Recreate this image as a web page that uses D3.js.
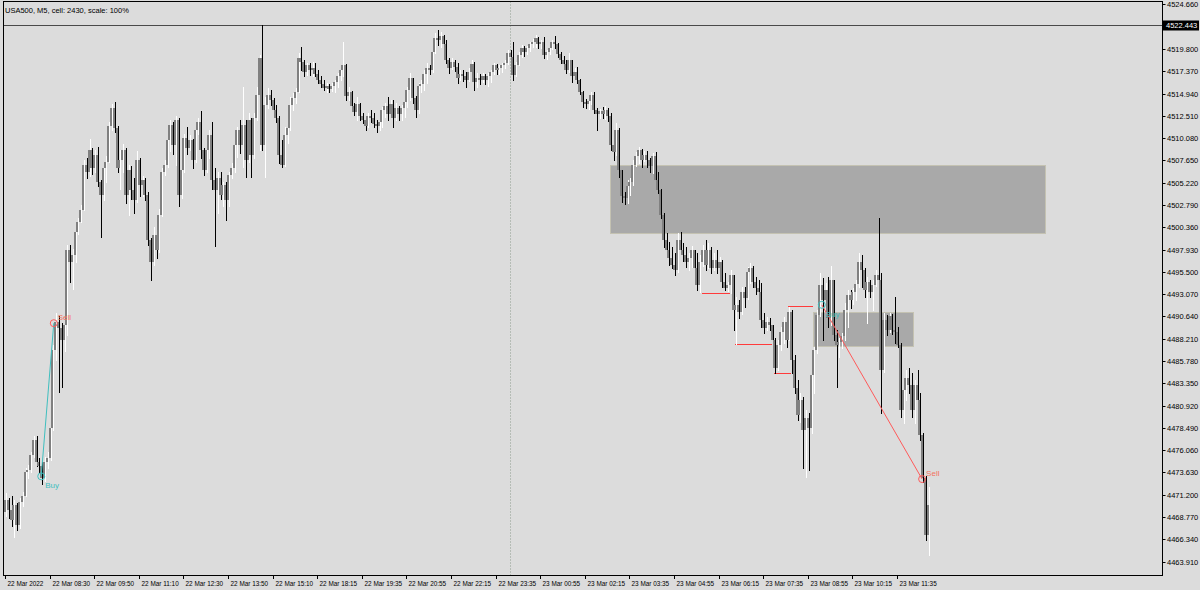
<!DOCTYPE html>
<html><head><meta charset="utf-8">
<script src="https://cdn.jsdelivr.net/npm/d3@7"></script>
<style>html,body{margin:0;padding:0;background:#dcdcdc;}svg{display:block;font-family:"Liberation Sans",Arial,sans-serif;}</style>
</head><body>
<svg id="chart" width="1200" height="590"></svg>
<script>
const chartTitle = "USA500, M5, cell: 2430, scale: 100%";

const opens = [
4469.3,4470.6,4469.5,4468.4,4470.1,4467.9,4470.4,4471.1,4473.7,4473.9,4475.5,4477.2,4474.8,4474.3,4473.0,4474.8,
4475.2,4478.5,4487.0,4490.0,4489.4,4488.1,4489.7,4497.9,4496.6,4497.3,4499.8,4500.9,4502.2,4507.1,4506.4,4508.8,
4506.8,4508.2,4505.3,4503.9,4506.8,4507.5,4511.4,4513.4,4511.2,4506.8,4507.7,4508.8,4503.9,4506.6,4504.4,4503.3,
4507.7,4505.0,4505.5,4503.9,4499.0,4496.6,4499.5,4497.9,4501.7,4506.4,4507.1,4509.9,4511.5,4509.3,4512.0,4503.9,
4506.6,4510.1,4509.0,4509.9,4507.7,4511.0,4511.8,4508.8,4506.6,4508.8,4510.4,4505.5,4504.4,4505.7,4503.9,4505.0,
4503.3,4506.1,4506.8,4509.3,4511.0,4509.3,4511.5,4507.7,4512.0,4508.2,4512.3,4514.8,4518.8,4509.3,4513.7,4514.8,
4514.2,4513.1,4512.3,4508.2,4507.1,4510.4,4511.2,4513.7,4514.5,4515.1,4518.8,4518.4,4517.3,4518.0,4517.5,4517.7,
4517.1,4516.4,4516.0,4515.5,4515.8,4515.4,4515.8,4516.2,4516.9,4517.5,4518.0,4514.7,4515.1,4513.6,4512.9,4513.8,
4512.5,4512.0,4511.4,4512.5,4512.3,4511.6,4511.4,4511.8,4513.1,4513.6,4512.7,4513.8,4512.3,4513.4,4512.7,4513.4,
4514.0,4515.3,4516.6,4514.5,4513.1,4515.8,4516.0,4517.1,4517.7,4517.5,4519.5,4521.0,4520.8,4521.2,4520.3,4518.6,
4517.7,4518.4,4517.8,4516.6,4517.1,4516.9,4516.4,4517.3,4518.2,4516.2,4516.6,4516.4,4516.9,4516.4,4516.9,4517.3,
4518.0,4517.5,4517.7,4518.1,4518.3,4519.4,4518.9,4517.0,4518.1,4519.1,4519.9,4519.5,4519.9,4520.3,4520.6,4521.0,
4520.3,4520.6,4519.1,4519.5,4519.9,4520.6,4520.3,4519.3,4518.6,4518.2,4517.5,4518.6,4516.9,4517.3,4516.4,4515.1,
4514.0,4513.8,4514.1,4514.8,4513.1,4512.7,4513.0,4512.7,4513.1,4512.5,4509.3,4508.6,4511.0,4506.6,4503.8,4503.5,
4504.9,4505.3,4507.1,4508.1,4508.8,4507.7,4508.2,4507.7,4507.0,4508.1,4505.5,4504.4,4501.7,4499.0,4497.9,4497.0,
4496.2,4495.7,4499.0,4497.9,4497.3,4496.6,4497.0,4497.9,4495.9,4494.1,4496.6,4497.9,4496.2,4497.9,4495.9,4496.8,
4495.9,4496.6,4494.4,4493.7,4494.1,4495.2,4491.3,4491.9,4491.1,4493.3,4492.6,4495.5,4495.9,4494.4,4493.7,4493.3,
4490.2,4489.4,4490.0,4489.7,4488.1,4485.0,4487.5,4488.9,4490.0,4488.1,4491.1,4485.9,4482.8,4479.9,4481.5,4478.3,
4479.6,4478.5,4484.2,4487.0,4490.8,4494.1,4492.4,4493.5,4490.5,4494.6,4488.6,4487.5,4487.8,4488.5,4491.3,4493.0,
4492.4,4493.3,4494.2,4496.6,4495.7,4493.5,4494.4,4493.3,4494.1,4495.2,4494.6,4484.8,4490.2,4489.2,4490.7,4489.2,
4488.9,4487.5,4480.4,4482.6,4483.9,4483.2,4480.4,4483.2,4481.5,4477.7,4473.0,4466.8
];
const highs = [
4471.4,4470.8,4471.0,4470.6,4470.3,4470.8,4471.5,4474.1,4474.4,4475.9,4477.6,4477.6,4475.2,4474.8,4475.3,4475.9,
4478.9,4487.5,4491.0,4490.7,4489.9,4490.5,4498.4,4498.4,4498.0,4500.3,4501.4,4502.8,4507.7,4507.9,4510.0,4509.0,
4508.8,4509.1,4505.5,4507.4,4508.1,4511.8,4513.8,4514.0,4511.4,4508.8,4509.4,4509.0,4507.1,4507.0,4505.7,4508.7,
4507.9,4506.0,4505.7,4504.2,4499.2,4500.4,4501.2,4502.4,4506.8,4507.7,4510.2,4512.0,4511.8,4512.5,4512.3,4507.1,
4510.5,4511.3,4510.4,4510.0,4511.3,4512.3,4513.0,4509.0,4509.4,4511.0,4511.8,4506.8,4506.4,4506.4,4505.3,4505.3,
4506.4,4507.4,4509.8,4511.3,4512.0,4515.7,4512.0,4512.8,4512.3,4512.8,4515.7,4519.1,4522.4,4514.6,4515.5,4515.3,
4514.5,4513.7,4512.5,4509.9,4511.3,4511.7,4514.6,4515.0,4515.5,4519.4,4520.0,4518.6,4518.3,4518.3,4518.4,4518.3,
4517.5,4516.8,4516.4,4516.1,4516.0,4516.1,4516.4,4517.2,4517.8,4520.6,4518.2,4515.7,4515.2,4513.9,4514.6,4513.9,
4512.8,4512.4,4512.8,4513.1,4512.8,4512.0,4512.2,4513.5,4513.9,4514.6,4514.2,4514.2,4513.9,4513.6,4513.7,4514.2,
4515.7,4517.2,4516.6,4514.7,4516.1,4516.4,4517.5,4518.3,4518.1,4519.7,4521.5,4521.9,4521.6,4521.3,4520.8,4518.8,
4518.8,4518.6,4518.3,4517.5,4517.5,4517.3,4517.7,4518.6,4518.4,4517.2,4517.1,4517.2,4517.1,4517.2,4517.5,4518.3,
4518.2,4518.0,4518.3,4518.6,4519.7,4519.7,4520.6,4518.4,4519.5,4520.2,4520.1,4520.1,4520.6,4520.9,4521.3,4521.1,
4520.8,4521.1,4519.7,4520.1,4520.8,4521.2,4520.5,4519.5,4519.0,4518.6,4519.4,4518.6,4517.7,4517.8,4516.5,4515.2,
4514.3,4514.3,4515.1,4515.1,4513.4,4513.3,4513.5,4513.6,4513.4,4512.8,4509.9,4511.7,4511.2,4506.6,4504.2,4505.5,
4505.7,4507.7,4508.6,4509.1,4508.9,4508.7,4508.7,4507.9,4508.5,4508.6,4506.4,4504.5,4501.9,4499.7,4498.8,4498.2,
4497.6,4499.7,4499.8,4498.6,4498.2,4497.6,4498.3,4497.9,4497.6,4497.3,4498.4,4499.0,4498.6,4498.2,4497.6,4497.9,
4497.1,4496.8,4495.4,4494.4,4495.7,4495.2,4492.8,4492.4,4493.8,4493.8,4496.0,4496.5,4496.1,4494.9,4494.6,4494.3,
4491.0,4490.6,4490.5,4489.7,4488.3,4488.1,4489.5,4490.6,4490.2,4491.7,4491.3,4486.4,4483.7,4482.3,4481.9,4480.4,
4480.1,4485.1,4487.3,4491.3,4495.4,4494.8,4494.3,4494.9,4496.1,4494.6,4489.2,4488.3,4488.8,4492.1,4493.5,4493.5,
4493.7,4494.6,4497.6,4497.3,4495.9,4494.9,4494.6,4494.6,4495.7,4501.4,4495.4,4491.0,4490.8,4491.0,4490.9,4492.8,
4489.5,4487.7,4483.4,4484.8,4485.0,4484.5,4483.7,4484.8,4482.3,4477.9,4473.2,4472.0
];
const lows = [
4468.9,4468.6,4467.8,4466.6,4467.4,4467.6,4470.0,4471.0,4473.0,4473.7,4475.3,4474.3,4473.7,4472.4,4472.7,4474.1,
4475.0,4478.3,4485.9,4482.4,4482.9,4486.9,4488.6,4494.4,4493.6,4496.6,4499.6,4500.9,4502.2,4505.7,4506.0,4506.2,
4506.4,4504.9,4499.3,4503.3,4505.3,4507.5,4511.0,4510.7,4506.4,4504.5,4506.4,4503.0,4501.7,4503.4,4501.9,4503.1,
4503.8,4503.8,4503.3,4498.4,4494.6,4496.2,4497.0,4497.7,4501.6,4506.1,4506.9,4508.7,4508.3,4507.1,4502.7,4503.5,
4506.4,4508.3,4508.8,4506.8,4507.5,4510.5,4507.9,4506.1,4506.4,4507.9,4504.5,4498.3,4501.9,4503.4,4502.7,4501.2,
4502.7,4505.7,4506.4,4508.0,4508.5,4506.9,4505.8,4507.5,4505.8,4507.9,4512.0,4508.8,4508.8,4505.8,4513.4,4513.7,
4512.6,4511.8,4507.4,4506.9,4507.0,4509.5,4511.0,4513.1,4513.9,4515.1,4517.5,4516.8,4517.0,4517.0,4516.8,4516.8,
4516.1,4515.7,4515.3,4515.1,4515.1,4515.2,4515.1,4515.7,4516.4,4516.8,4514.2,4514.2,4513.1,4512.6,4512.0,4512.0,
4511.7,4511.0,4511.3,4511.8,4511.3,4510.7,4511.0,4511.3,4512.4,4512.0,4512.4,4511.3,4512.0,4512.0,4512.0,4512.4,
4513.5,4514.2,4513.9,4512.4,4512.8,4515.1,4515.3,4516.1,4517.1,4517.3,4519.4,4520.2,4520.0,4519.9,4518.3,4517.2,
4517.6,4517.4,4516.1,4516.4,4516.3,4515.7,4516.3,4516.8,4515.3,4515.7,4516.0,4516.2,4516.0,4515.8,4516.2,4517.1,
4517.1,4517.1,4517.3,4517.7,4518.2,4518.5,4516.4,4516.9,4518.0,4518.9,4519.0,4519.3,4519.6,4520.0,4520.0,4519.9,
4519.9,4518.8,4518.7,4519.3,4519.8,4519.9,4518.9,4518.3,4517.8,4517.2,4517.3,4516.2,4516.6,4516.1,4514.9,4513.5,
4513.4,4513.3,4513.8,4512.8,4511.0,4512.3,4512.3,4512.2,4511.9,4508.8,4507.7,4508.2,4505.8,4503.1,4502.9,4503.0,
4503.9,4505.0,4507.0,4507.4,4506.9,4507.6,4506.9,4506.4,4506.3,4505.2,4504.1,4501.4,4498.2,4497.3,4496.2,4495.9,
4495.1,4495.5,4497.6,4496.7,4496.0,4495.7,4496.0,4495.3,4493.5,4493.3,4496.1,4495.7,4495.9,4495.4,4495.7,4495.4,
4495.6,4493.8,4493.5,4493.4,4493.2,4489.2,4487.6,4490.5,4490.9,4491.7,4492.5,4494.3,4493.8,4493.1,4492.6,4489.5,
4488.8,4489.2,4489.2,4487.5,4484.5,4484.8,4487.0,4487.7,4487.3,4488.1,4484.5,4482.3,4479.3,4479.1,4474.1,4473.1,
4473.9,4477.9,4482.3,4486.6,4490.7,4488.1,4491.7,4489.5,4489.7,4488.1,4482.9,4486.2,4487.2,4488.1,4489.5,4491.6,
4492.0,4492.4,4493.8,4493.8,4492.7,4489.9,4492.7,4491.3,4494.0,4493.8,4480.1,4484.6,4488.6,4488.9,4488.7,4487.7,
4487.3,4479.7,4479.0,4481.5,4482.3,4479.7,4479.0,4480.4,4477.2,4472.6,4466.3,4464.6
];
const closes = [
4470.6,4469.5,4468.4,4470.1,4467.9,4470.4,4471.1,4473.7,4473.9,4475.5,4477.2,4474.8,4474.3,4473.0,4474.8,4475.2,
4478.5,4487.0,4490.0,4489.4,4488.1,4489.7,4497.9,4496.6,4497.3,4499.8,4500.9,4502.2,4507.1,4506.4,4508.8,4506.8,
4508.2,4505.3,4503.9,4506.8,4507.5,4511.4,4513.4,4511.2,4506.8,4507.7,4508.8,4503.9,4506.6,4504.4,4503.3,4507.7,
4505.0,4505.5,4503.9,4499.0,4496.6,4499.5,4497.9,4501.7,4506.4,4507.1,4509.9,4511.5,4509.3,4512.0,4503.9,4506.6,
4510.1,4509.0,4509.9,4507.7,4511.0,4511.8,4508.8,4506.6,4508.8,4510.4,4505.5,4504.4,4505.7,4503.9,4505.0,4503.3,
4506.1,4506.8,4509.3,4511.0,4509.3,4511.5,4507.7,4512.0,4508.2,4512.3,4514.8,4518.8,4509.3,4513.7,4514.8,4514.2,
4513.1,4512.3,4508.2,4507.1,4510.4,4511.2,4513.7,4514.5,4515.1,4518.8,4518.4,4517.3,4518.0,4517.5,4517.7,4517.1,
4516.4,4516.0,4515.5,4515.8,4515.4,4515.8,4516.2,4516.9,4517.5,4518.0,4514.7,4515.1,4513.6,4512.9,4513.8,4512.5,
4512.0,4511.4,4512.5,4512.3,4511.6,4511.4,4511.8,4513.1,4513.6,4512.7,4513.8,4512.3,4513.4,4512.7,4513.4,4514.0,
4515.3,4516.6,4514.5,4513.1,4515.8,4516.0,4517.1,4517.7,4517.5,4519.5,4521.0,4520.8,4521.2,4520.3,4518.6,4517.7,
4518.4,4517.8,4516.6,4517.1,4516.9,4516.4,4517.3,4518.2,4516.2,4516.6,4516.4,4516.9,4516.4,4516.9,4517.3,4518.0,
4517.5,4517.7,4518.1,4518.3,4519.4,4518.9,4517.0,4518.1,4519.1,4519.9,4519.5,4519.9,4520.3,4520.6,4521.0,4520.3,
4520.6,4519.1,4519.5,4519.9,4520.6,4520.3,4519.3,4518.6,4518.2,4517.5,4518.6,4516.9,4517.3,4516.4,4515.1,4514.0,
4513.8,4514.1,4514.8,4513.1,4512.7,4513.0,4512.7,4513.1,4512.5,4509.3,4508.6,4511.0,4506.6,4503.8,4503.5,4504.9,
4505.3,4507.1,4508.1,4508.8,4507.7,4508.2,4507.7,4507.0,4508.1,4505.5,4504.4,4501.7,4499.0,4497.9,4497.0,4496.2,
4495.7,4499.0,4497.9,4497.3,4496.6,4497.0,4497.9,4495.9,4494.1,4496.6,4497.9,4496.2,4497.9,4495.9,4496.8,4495.9,
4496.6,4494.4,4493.7,4494.1,4495.2,4491.3,4491.9,4491.1,4493.3,4492.6,4495.5,4495.9,4494.4,4493.7,4493.3,4490.2,
4489.4,4490.0,4489.7,4488.1,4485.0,4487.5,4488.9,4490.0,4488.1,4491.1,4485.9,4482.8,4479.9,4481.5,4478.3,4479.6,
4478.5,4484.2,4487.0,4490.8,4494.1,4492.4,4493.5,4490.5,4494.6,4488.6,4487.5,4487.8,4488.5,4491.3,4493.0,4492.4,
4493.3,4494.2,4496.6,4495.7,4493.5,4494.4,4493.3,4494.1,4495.2,4494.6,4484.8,4490.2,4489.2,4490.7,4489.2,4488.9,
4487.5,4480.4,4482.6,4483.9,4483.2,4480.4,4483.2,4481.5,4477.7,4473.0,4466.8,4470.1
];

const timeLabels = ["22 Mar 2022","22 Mar 08:30","22 Mar 09:50","22 Mar 11:10","22 Mar 12:30","22 Mar 13:50","22 Mar 15:10",
  "22 Mar 18:15","22 Mar 19:35","22 Mar 20:55","22 Mar 22:15","22 Mar 23:35","23 Mar 00:55","23 Mar 02:15","23 Mar 03:35",
  "23 Mar 04:55","23 Mar 06:15","23 Mar 07:35","23 Mar 08:55","23 Mar 10:15","23 Mar 11:35"];
const timeLabelBars = [0,16,32,48,64,80,96,112,128,144,160,176,192,208,224,240,256,272,288,304,320];
const priceTicks = [4524.660,4519.800,4517.370,4514.940,4512.510,4510.080,4507.650,4505.220,4502.790,4500.360,4497.930,
  4495.500,4493.070,4490.640,4488.210,4485.780,4483.350,4480.920,4478.490,4476.060,4473.630,4471.200,4468.770,4466.340,4463.910];
const currentPrice = 4522.443;
const daySeparatorBar = 181;

const zoneStartBars = [217, 290];
const zoneEndBars = [373, 326];
const zoneTops = [4507.14, 4491.11];
const zoneBottoms = [4499.73, 4487.40];

const levelPrices = [4493.2, 4487.6, 4484.5, 4491.8];
const levelStartBars = [250, 262, 276, 281];
const levelEndBars = [260, 275, 282, 290];

const tradeOpenBars = [13, 293];
const tradeOpenPrices = [4473.2, 4491.9];
const tradeCloseBars = [17.5, 329];
const tradeClosePrices = [4489.9, 4472.9];
const tradeOpenLabels = ["Buy", "Buy"];
const tradeCloseLabels = ["Sell", "Sell"];

// ---------- drawing ----------
const W = 1200, H = 590;
const L = 3.5, R = 1162.5, T = 1.5, B = 575.5;
const x = d3.scaleLinear().domain([0, closes.length - 1]).range([5, 927.7]);
const y = d3.scaleLinear().domain([4462.33, 4524.81]).range([576, 3]);
const svg = d3.select("#chart");
svg.append("rect").attr("width", W).attr("height", H).attr("fill", "#dcdcdc");

svg.append("clipPath").attr("id", "clip").append("rect")
  .attr("x", L + 0.5).attr("y", T + 0.5).attr("width", R - L - 1).attr("height", B - T - 1);
const g = svg.append("g").attr("clip-path", "url(#clip)");

// zones
g.selectAll("rect.zone").data(d3.range(zoneTops.length)).join("rect").attr("class", "zone")
  .attr("x", i => Math.round(x(zoneStartBars[i])) + 0.5)
  .attr("y", i => Math.round(y(zoneTops[i])) + 0.5)
  .attr("width", i => Math.round(x(zoneEndBars[i]) - x(zoneStartBars[i])))
  .attr("height", i => Math.round(y(zoneBottoms[i]) - y(zoneTops[i])))
  .attr("fill", "#a9a9a9").attr("stroke", "#c4c2b2").attr("stroke-width", 1);

// day separator
const sx = Math.round(x(daySeparatorBar)) + 0.5;
g.append("line").attr("x1", sx).attr("x2", sx).attr("y1", T).attr("y2", B)
  .attr("stroke", "#8f9c8f").attr("stroke-dasharray", "1,2");

// current price line
const py = Math.round(y(currentPrice)) + 0.5;
g.append("line").attr("x1", L).attr("x2", R).attr("y1", py).attr("y2", py).attr("stroke", "#4a4a4a");

// support/resistance levels
g.selectAll("line.level").data(d3.range(levelPrices.length)).join("line").attr("class", "level")
  .attr("x1", i => Math.round(x(levelStartBars[i])))
  .attr("x2", i => Math.round(x(levelEndBars[i])))
  .attr("y1", i => Math.round(y(levelPrices[i])) + 0.5)
  .attr("y2", i => Math.round(y(levelPrices[i])) + 0.5)
  .attr("stroke", "#ff3b3b").attr("stroke-width", 1);

// candles
const cg = g.append("g");
d3.range(closes.length).forEach(i => {
  const xc = Math.round(x(i));
  const bull = closes[i] >= opens[i];
  const col = bull ? "#ffffff" : "#000000";
  const yh = Math.round(y(highs[i])), yl = Math.round(y(lows[i]));
  cg.append("line").attr("x1", xc + 1.5).attr("x2", xc + 1.5).attr("y1", yh).attr("y2", yl + 1)
    .attr("stroke", col).attr("stroke-width", 1);
  const yo = Math.round(y(opens[i])), yc = Math.round(y(closes[i]));
  const top = Math.min(yo, yc), h = Math.max(1, Math.abs(yo - yc));
  cg.append("rect").attr("x", xc - 1).attr("y", top).attr("width", 2).attr("height", h)
    .attr("fill", "#808080");
});

// trades
const tradeLineColors = ["#3fbfbf", "#ff5a5a"];
const tg = g.append("g");
d3.range(tradeOpenBars.length).forEach(i => {
  const x1 = x(tradeOpenBars[i]), y1 = y(tradeOpenPrices[i]);
  const x2 = x(tradeCloseBars[i]), y2 = y(tradeClosePrices[i]);
  tg.append("line").attr("x1", x1).attr("y1", y1).attr("x2", x2).attr("y2", y2)
    .attr("stroke", tradeLineColors[i]).attr("stroke-width", 1);
  tg.append("circle").attr("cx", x1).attr("cy", y1).attr("r", 3.5).attr("fill", "none")
    .attr("stroke", "#3fbfbf").attr("stroke-width", 1);
  tg.append("circle").attr("cx", x2).attr("cy", y2).attr("r", 3.5).attr("fill", "none")
    .attr("stroke", "#ff5a5a").attr("stroke-width", 1);
  tg.append("text").attr("x", x1 + 4).attr("y", y1 + 12).text(tradeOpenLabels[i])
    .attr("fill", "#3fbfbf").attr("font-size", 8);
  tg.append("text").attr("x", x2 + 4).attr("y", y2 - 3).text(tradeCloseLabels[i])
    .attr("fill", "#f2735f").attr("font-size", 8);
});

// header
svg.append("text").attr("x", 5).attr("y", 13).text(chartTitle).attr("font-size", 7.5).attr("fill", "#000");

// frame
svg.append("rect").attr("x", L).attr("y", T).attr("width", R - L).attr("height", B - T)
  .attr("fill", "none").attr("stroke", "#000").attr("stroke-width", 1);

// price axis
const pa = svg.append("g");
priceTicks.forEach(p => {
  const yy = Math.round(y(p)) + 0.5;
  pa.append("line").attr("x1", R).attr("x2", R + 3).attr("y1", yy).attr("y2", yy).attr("stroke", "#000");
  pa.append("text").attr("x", 1167).attr("y", yy + 2.7).text(p.toFixed(3))
    .attr("font-size", 7.5).attr("fill", "#000");
});
pa.append("rect").attr("x", 1163).attr("y", py - 5).attr("width", 36).attr("height", 10).attr("fill", "#000");
pa.append("text").attr("x", 1166).attr("y", py + 2.7).text(currentPrice.toFixed(3))
  .attr("font-size", 7.5).attr("fill", "#fff");

// time axis
const ta = svg.append("g");
timeLabels.forEach((t, k) => {
  const xx = Math.round(x(timeLabelBars[k])) + 0.5;
  ta.append("line").attr("x1", xx).attr("x2", xx).attr("y1", B).attr("y2", B + 3.5).attr("stroke", "#000");
  ta.append("text").attr("x", xx + 2).attr("y", 586).text(t).attr("font-size", 6.4).attr("fill", "#000");
});
</script>
</body></html>
